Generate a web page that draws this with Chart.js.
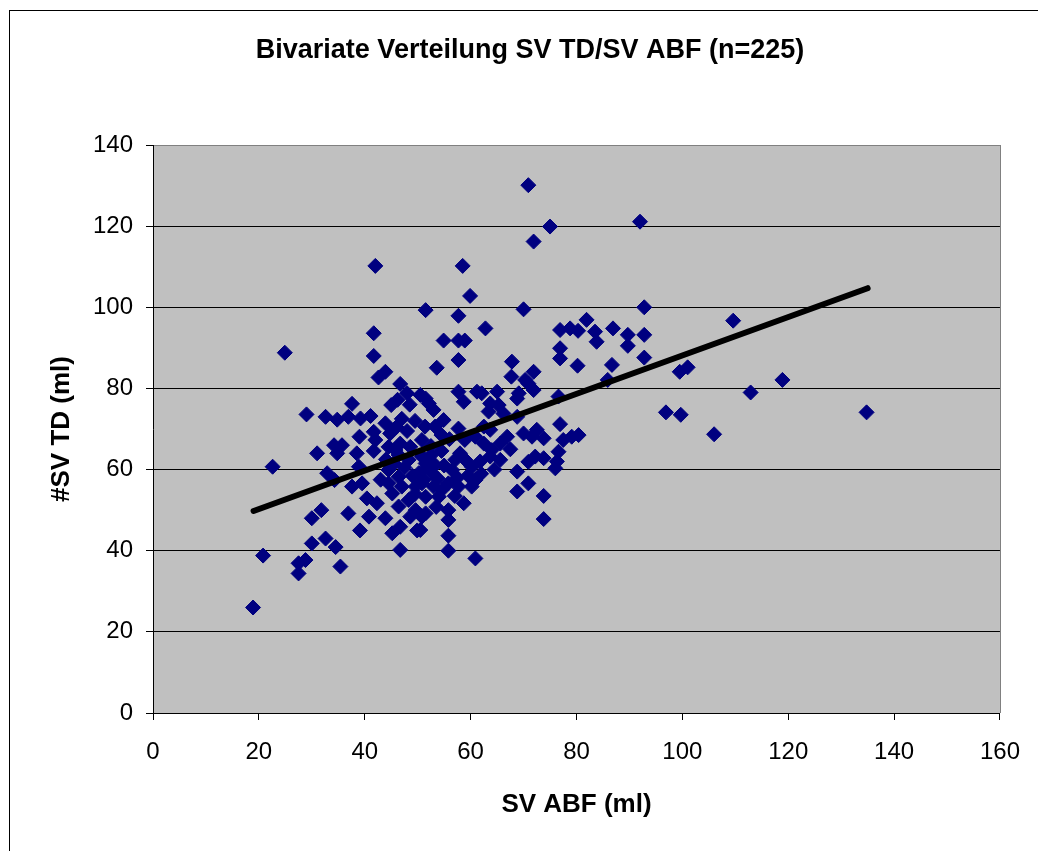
<!DOCTYPE html>
<html lang="de">
<head>
  <meta charset="UTF-8" />
  <title>Bivariate Verteilung SV TD/SV ABF</title>
  <script src="https://cdn.jsdelivr.net/npm/chart.js"></script>
  <style>
    html, body {
      margin: 0;
      padding: 0;
      background: #fff;
      overflow: hidden;
    }
    .frame {
      position: absolute;
      left: 9px;
      top: 10px;
      width: 1100px;
      height: 900px;
      border: 1px solid #000;
    }
    #chart {
      position: absolute;
      left: 0;
      top: 0;
    }
  </style>
</head>
<body>
  <div class="frame"></div>
  <canvas id="chart" width="1038" height="851"></canvas>

  <script>
    // SV ABF (x) and SV TD (y)
    const svAbf = [
      18.9, 20.8, 22.6, 24.9, 27.5, 27.5, 28.8, 29, 30, 30,
      31.8, 32.6, 34.5, 35.4, 31, 32.6, 34.8, 36.9, 39.2, 41.1,
      37.6, 34.2, 35.7, 34.8, 32.9, 34.3, 38.9, 37.6, 39.5, 41.7,
      40.4, 42.3, 40.8, 36.9, 39.1, 43.9, 45.2, 46.7, 49.9, 46.7,
      41.7, 41.7, 43.9, 42.6, 46.7, 48, 46.2, 50.5, 45, 43.9,
      41.7, 44.8, 39, 42, 51.4, 44.5, 46.7, 48.6, 51.5, 42,
      44.5, 46.4, 45.2, 47, 48.3, 49.6, 50.8, 45.8, 48.3, 50.2,
      51.5, 59.9, 57.7, 70, 62.8, 54.9, 57.7, 58.9, 57.7, 53.6,
      67.8, 76.9, 78.8, 80.3, 81.9, 83.5, 83.8, 86.9, 76.9, 76.9,
      80.2, 86.7, 85.9, 67.7, 71.9, 70.3, 71.9, 69.1, 70.9, 57.7,
      58.7, 61.2, 62.1, 65, 52.1, 53, 63.7, 65.3, 66.2, 63.4,
      68.8, 76.6, 76.9, 54.9, 53.3, 50.8, 57.7, 45.5, 62.5, 63.7,
      58.9, 60.9, 62.5, 66.9, 65.6, 70, 72.5, 73.8, 71.6, 77.5,
      79.1, 80.4, 76.6, 51.8, 52.7, 50.8, 53, 56.5, 57.1, 59,
      60.2, 55.8, 54.6, 57.7, 60.2, 60.9, 58.7, 51.5, 50.5, 55.8,
      55.8, 55.8, 55.8, 60.9, 63.7, 65.6, 68.8, 70.9, 73.8, 68.8,
      70.9, 73.8, 73.8, 76, 76.3, 70.9, 75, 71.9, 92, 92.8,
      109.6, 89.7, 92.8, 89.7, 92.8, 99.5, 101, 118.9, 112.9, 96.9,
      99.7, 106, 134.8, 58.5, 50.8, 46.4, 49.6, 51.1, 44.5, 46.4,
      48.6, 52.5, 54.5, 58, 51.5, 54, 51.5, 53.3, 68.8, 64,
      72.2, 47.5, 49, 53.8, 55, 48, 49.5, 56, 54.5, 59.5,
      61.8, 62, 64.5, 52.5, 49.5, 57.5, 47, 46, 53.5, 57,
      44, 38.5, 48.5, 43, 67.5
    ];
    const svTd = [
      26, 38.8, 60.7, 88.8, 36.9, 34.4, 37.7, 73.6, 48, 41.8,
      50, 43, 40.9, 36.1, 64, 73, 72.3, 73, 72.6, 73.2,
      76.2, 66, 66, 64, 59.1, 57.4, 60.7, 55.8, 56.6, 64.6,
      52.9, 51.7, 48.4, 49.2, 45, 48, 44.3, 45.9, 45, 40.2,
      93.6, 88, 84.1, 82.7, 81.1, 78.8, 77.2, 78.4, 75.9, 71.4,
      69.3, 68.9, 68.1, 67.3, 70.6, 65.6, 66.4, 65.6, 99.3, 110.2,
      59.9, 58.2, 54.1, 55.8, 52.5, 50, 48.4, 64.8, 62.4, 59.1,
      61.5, 102.8, 97.9, 99.5, 94.8, 91.8, 91.8, 91.8, 87, 85.1,
      86.6, 94.4, 94.8, 94.2, 96.9, 94, 91.5, 94.8, 89.9, 87.4,
      85.6, 85.8, 82.1, 82.9, 84.1, 82.1, 79.6, 78.8, 81.2, 79.2,
      76.7, 79.2, 78.8, 79.2, 76.3, 74.7, 76.3, 75.9, 73.8, 74.3,
      73, 78, 71.2, 72.2, 70.6, 67.3, 70.1, 61.5, 70.6, 69.8,
      67.3, 68.1, 66.4, 68.1, 66.4, 68.9, 69.8, 67.7, 68.1, 67.3,
      68.1, 68.5, 64.4, 60.7, 59.1, 56.6, 55.8, 59.9, 62.4, 62.4,
      60.7, 56.6, 55, 55.8, 55.8, 57.4, 51.7, 49.2, 45.1, 50,
      47.6, 43.7, 40, 38.1, 63.2, 62.4, 59.5, 61.9, 62.8, 54.6,
      56.6, 53.5, 47.8, 60.3, 62, 130.1, 119.9, 116.2, 121.1, 100,
      96.7, 93.2, 93.2, 90.5, 87.6, 84.1, 85.2, 82.1, 79, 74.1,
      73.5, 68.7, 74.1, 110.2, 63.2, 63.6, 55.8, 57.4, 56.6, 50.9,
      48.4, 65.8, 64.6, 64, 53.3, 53.3, 77.5, 61.1, 77.5, 64.8,
      63.2, 60.5, 58.5, 57.8, 61, 69.5, 72, 67.5, 68.5, 58.5,
      62, 59, 60, 63.5, 54, 58, 72.5, 70.5, 50.8, 53.5,
      62.5, 64, 76, 57.5, 65
    ];

    // regression line end points
    const trendX = [19, 135];
    const trendY = [49.8, 104.7];

    const titleText = 'Bivariate Verteilung SV TD/SV ABF (n=225)';
    const xTitle = 'SV ABF (ml)';
    const yTitle = '#SV TD (ml)';

    const fontFamily = '"Liberation Sans", Arial, sans-serif';

    const frameTexts = {
      id: 'frameTexts',
      beforeDraw(chart) {
        const { ctx, chartArea: a } = chart;
        ctx.save();
        ctx.fillStyle = '#c0c0c0';
        ctx.fillRect(a.left, a.top, a.right - a.left, a.bottom - a.top);
        ctx.restore();
      },
      afterDraw(chart) {
        const { ctx, chartArea: a } = chart;
        ctx.save();
        // right edge of plot area
        ctx.strokeStyle = '#808080';
        ctx.lineWidth = 1;
        ctx.beginPath();
        ctx.moveTo(Math.round(a.right) + 0.5, a.top);
        ctx.lineTo(Math.round(a.right) + 0.5, a.bottom);
        ctx.stroke();

        ctx.fillStyle = '#000';
        ctx.textAlign = 'center';
        ctx.textBaseline = 'middle';
        ctx.font = 'bold 27px ' + fontFamily;
        ctx.fillText(titleText, 530, 51);
        ctx.font = 'bold 26px ' + fontFamily;
        ctx.fillText(xTitle, (a.left + a.right) / 2, 805);

        ctx.translate(62, (a.top + a.bottom) / 2);
        ctx.rotate(-Math.PI / 2);
        ctx.fillText(yTitle, 0, 0);
        ctx.restore();
      }
    };

    const points = svAbf.map((x, i) => ({ x: x, y: svTd[i] }));
    const trend = trendX.map((x, i) => ({ x: x, y: trendY[i] }));

    new Chart(document.getElementById('chart'), {
      type: 'scatter',
      data: {
        datasets: [
          {
            type: 'line',
            label: 'Trend',
            data: trend,
            borderColor: '#000',
            borderWidth: 6,
            borderCapStyle: 'round',
            pointRadius: 0,
            fill: false,
            order: 0
          },
          {
            label: 'SV TD',
            data: points,
            pointStyle: 'rectRot',
            pointRadius: 7.5,
            pointHoverRadius: 7.5,
            backgroundColor: '#000080',
            borderColor: '#000080',
            borderWidth: 1,
            order: 1
          }
        ]
      },
      options: {
        responsive: false,
        animation: false,
        layout: {
          padding: { top: 145, right: 36, left: 0, bottom: 0 }
        },
        plugins: {
          legend: { display: false },
          tooltip: { enabled: false }
        },
        scales: {
          x: {
            type: 'linear',
            min: 0,
            max: 160,
            ticks: {
              stepSize: 20,
              padding: 18,
              color: '#000',
              font: { family: fontFamily, size: 24 }
            },
            grid: {
              drawOnChartArea: false,
              tickLength: 7,
              color: '#000'
            },
            border: { color: '#000', width: 1 },
            afterFit(scale) { scale.height = 138; }
          },
          y: {
            type: 'linear',
            min: 0,
            max: 140,
            ticks: {
              stepSize: 20,
              padding: 13,
              color: '#000',
              font: { family: fontFamily, size: 24 }
            },
            grid: {
              tickLength: 7,
              color: c => (c.tick && c.tick.value === 140 ? '#808080' : '#000'),
              tickColor: '#000'
            },
            border: { color: '#000', width: 1 },
            afterFit(scale) { scale.width = 153; }
          }
        }
      },
      plugins: [frameTexts]
    });
  </script>
</body>
</html>
